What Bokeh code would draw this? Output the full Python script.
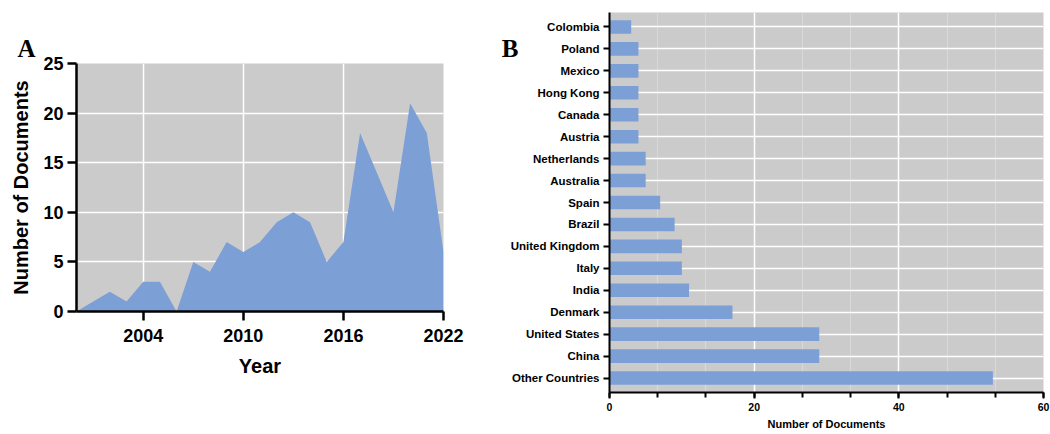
from bokeh.plotting import figure
from bokeh.layouts import row
from bokeh.models import Range1d, FixedTicker, SingleIntervalTicker, LinearAxis
from bokeh.embed import file_html
from bokeh.resources import INLINE

# ---------------- data ----------------
years = [2000, 2001, 2002, 2003, 2004, 2005, 2006, 2007, 2008, 2009, 2010, 2011,
         2012, 2013, 2014, 2015, 2016, 2017, 2018, 2019, 2020, 2021, 2022]
docs_per_year = [0, 1, 2, 1, 3, 3, 0, 5, 4, 7, 6, 7, 9, 10, 9, 5, 7, 18, 14, 10, 21, 18, 6]
year_ticks = [2004, 2010, 2016, 2022]
count_ticks = [0, 5, 10, 15, 20, 25]

countries = ["Colombia", "Poland", "Mexico", "Hong Kong", "Canada", "Austria",
             "Netherlands", "Australia", "Spain", "Brazil", "United Kingdom", "Italy",
             "India", "Denmark", "United States", "China", "Other Countries"]
country_docs = [3, 4, 4, 4, 4, 4, 5, 5, 7, 9, 10, 10, 11, 17, 29, 29, 53]

BLUE = "#7c9fd6"
GRAY = "#cbcbcb"
SANS = "Liberation Sans"
SERIF = "Liberation Serif"

# ---------------- panel A ----------------
pa = figure(x_range=Range1d(2000, 2022), y_range=Range1d(0, 25),
            frame_width=367, frame_height=248, frame_align=False,
            min_border_left=76, min_border_top=63, min_border_right=27, min_border_bottom=120,
            toolbar_location=None, output_backend="svg",
            background_fill_color=GRAY, border_fill_color="white", outline_line_color=None)
pa.varea(x=years, y1=[0] * len(years), y2=docs_per_year, fill_color=BLUE, fill_alpha=1.0)

pa.title.text = "A"
pa.title.align = "left"
pa.title.offset = -59
pa.title.standoff = 4
pa.title.text_font = SERIF
pa.title.text_font_style = "bold"
pa.title.text_font_size = "25px"
pa.title.text_color = "black"

pa.xaxis.ticker = FixedTicker(ticks=year_ticks)
pa.yaxis.ticker = FixedTicker(ticks=count_ticks)
pa.xgrid.ticker = FixedTicker(ticks=year_ticks)
pa.ygrid.ticker = FixedTicker(ticks=count_ticks)
for g in (pa.xgrid, pa.ygrid):
    g.grid_line_color = "white"
    g.grid_line_width = 1.5
pa.xaxis.axis_label = "Year"
pa.yaxis.axis_label = "Number of Documents"
for ax in (pa.xaxis, pa.yaxis):
    ax.axis_line_color = "black"
    ax.axis_line_width = 2.5
    ax.major_tick_line_color = "black"
    ax.major_tick_line_width = 2.5
    ax.major_tick_out = 9
    ax.major_tick_in = 0
    ax.minor_tick_line_color = None
    ax.major_label_text_font = SANS
    ax.major_label_text_font_style = "bold"
    ax.major_label_text_font_size = "18px"
    ax.major_label_text_color = "black"
    ax.axis_label_text_font = SANS
    ax.axis_label_text_font_style = "bold"
    ax.axis_label_text_font_size = "20px"
    ax.axis_label_text_color = "black"
pa.xaxis.major_label_standoff = 8
pa.xaxis.axis_label_standoff = 10
pa.yaxis.major_label_standoff = 4
pa.yaxis.axis_label_standoff = 8

# ---------------- panel B ----------------
# category slots: first country at the top
y_pos = list(range(len(countries)))[::-1]

pb = figure(x_range=Range1d(0, 60), y_range=Range1d(-0.66, len(countries) - 0.34),
            frame_width=434, frame_height=380, frame_align=False,
            min_border_left=139, min_border_top=12, min_border_right=7, min_border_bottom=42,
            toolbar_location=None, output_backend="svg",
            background_fill_color=GRAY, border_fill_color="white", outline_line_color=None)
pb.hbar(y=y_pos, right=country_docs, left=0, height=0.62,
        fill_color=BLUE, line_color=None)

pb.xaxis.ticker = SingleIntervalTicker(interval=20, num_minor_ticks=3)
pb.xgrid.ticker = SingleIntervalTicker(interval=20, num_minor_ticks=3)
pb.xgrid.grid_line_color = "white"
pb.xgrid.grid_line_width = 1.5
pb.xgrid.minor_grid_line_color = "#d9d9d9"
pb.xgrid.minor_grid_line_width = 1
pb.yaxis.ticker = FixedTicker(ticks=y_pos)
pb.yaxis.major_label_overrides = dict(zip(y_pos, countries))
pb.yaxis.minor_tick_line_color = None
pb.ygrid.ticker = FixedTicker(ticks=y_pos)
pb.ygrid.grid_line_color = "white"
pb.ygrid.grid_line_width = 1.5
pb.xaxis.axis_label = "Number of Documents"
for ax in (pb.xaxis, pb.yaxis):
    ax.axis_line_color = "black"
    ax.axis_line_width = 2
    ax.major_tick_line_color = "black"
    ax.major_tick_line_width = 2
    ax.major_tick_out = 6
    ax.major_tick_in = 0
    ax.major_label_text_font = SANS
    ax.major_label_text_font_style = "bold"
    ax.major_label_text_color = "black"
    ax.axis_label_text_font = SANS
    ax.axis_label_text_font_style = "bold"
    ax.axis_label_text_font_size = "11px"
    ax.axis_label_text_color = "black"
pb.xaxis.minor_tick_line_color = "black"
pb.xaxis.minor_tick_line_width = 2
pb.xaxis.minor_tick_out = 5
pb.xaxis.minor_tick_in = 0
pb.xaxis.major_label_text_font_size = "10.5px"
pb.yaxis.major_label_text_font_size = "11.5px"
pb.xaxis.major_label_standoff = 4
pb.xaxis.axis_label_standoff = 4
pb.yaxis.major_label_standoff = 4

# panel letter "B": the single label of a bare outer axis
letter_axis = LinearAxis(ticker=FixedTicker(ticks=[15.0]),
                         major_label_overrides={15.0: "B"},
                         axis_line_color=None, major_tick_line_color=None,
                         minor_tick_line_color=None, major_tick_out=0, major_tick_in=0,
                         major_label_standoff=-11,
                         major_label_text_font=SERIF, major_label_text_font_style="bold",
                         major_label_text_font_size="25px", major_label_text_color="black")
pb.add_layout(letter_axis, "left")

layout = row(pa, pb)
open("out.html", "w").write(file_html(layout, INLINE))
